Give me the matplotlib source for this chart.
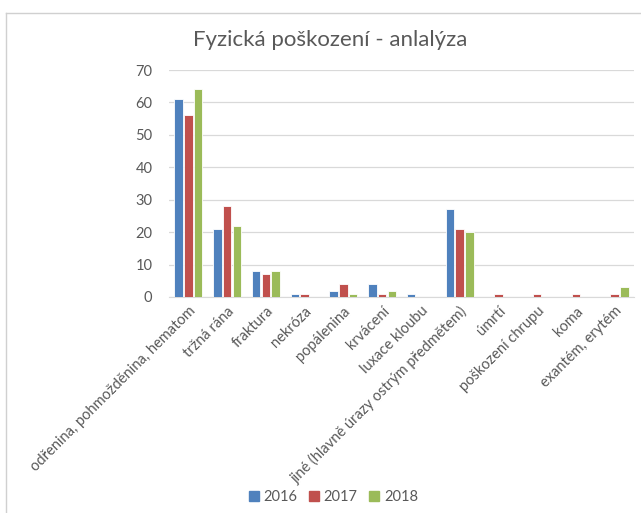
import numpy as np
import matplotlib.pyplot as plt
from matplotlib.lines import Line2D

categories = [
    'odřenina, pohmožděnina, hematom', 'tržná rána', 'fraktura', 'nekróza',
    'popálenina', 'krvácení', 'luxace kloubu',
    'jiné (hlavně úrazy ostrým předmětem)', 'úmrtí', 'poškození chrupu',
    'koma', 'exantém, erytém',
]
years = ['2016', '2017', '2018']
v2016 = [61, 21, 8, 1, 2, 4, 1, 27, 0, 0, 0, 0]
v2017 = [56, 28, 7, 1, 4, 1, 0, 21, 1, 1, 1, 1]
v2018 = [64, 22, 8, 0, 1, 2, 0, 20, 0, 0, 0, 3]
colors = ['#4F81BD', '#C0504D', '#9BBB59']

plt.rcParams['font.family'] = ['Lato', 'DejaVu Sans']
txt = '#595959'

fig = plt.figure(figsize=(6.41, 5.13), dpi=100)
ax = fig.add_axes([169 / 641, 1 - 297 / 513, (634 - 169) / 641, (297 - 70) / 513])

x = np.arange(len(categories))
w = 0.22
for i, vals in enumerate([v2016, v2017, v2018]):
    ax.bar(x + (i - 1) * (w + 0.03), vals, width=w, color=colors[i],
           edgecolor='white', linewidth=0.6, label=years[i], zorder=3)

ax.set_xlim(-0.5, len(categories) - 0.5)
ax.set_ylim(0, 70)
ax.set_yticks(range(0, 71, 10))
ax.yaxis.grid(True, color='#D9D9D9', linewidth=0.9, zorder=0)
for s in ['top', 'right', 'left']:
    ax.spines[s].set_visible(False)
ax.spines['bottom'].set_color('#D9D9D9')
ax.tick_params(axis='both', length=0, colors=txt, labelsize=10.5)
ax.tick_params(axis='y', pad=12)
ax.tick_params(axis='x', pad=5)
ax.set_xticks(x)
ax.set_xticklabels(categories, rotation=45, ha='right', rotation_mode='anchor')

fig.text(0.515, 1 - 40 / 513, 'Fyzická poškození - anlalýza', ha='center',
         va='center', fontsize=16, color=txt)

handles = [plt.Rectangle((0, 0), 1, 1, color=c) for c in colors]
fig.legend(handles, years, loc='center', bbox_to_anchor=(0.52, 1 - 497 / 513),
           ncol=3, frameon=False, fontsize=10.5, labelcolor=txt,
           handlelength=0.7, handleheight=0.7, handletextpad=0.3,
           columnspacing=0.8)

fig.add_artist(Line2D([6 / 641, 6 / 641], [0, 1 - 13 / 513],
                      transform=fig.transFigure, color='#D0D0D0', linewidth=1))
fig.add_artist(Line2D([6 / 641, 1], [1 - 13 / 513, 1 - 13 / 513],
                      transform=fig.transFigure, color='#D0D0D0', linewidth=1))

fig.savefig('out.png', dpi=100)
